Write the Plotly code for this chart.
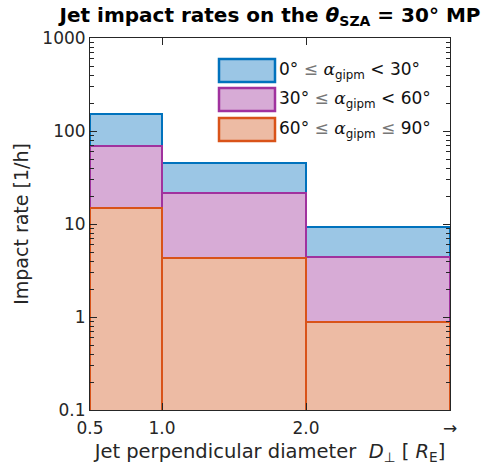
import plotly.graph_objects as go

# Bin edges (jet perpendicular diameter, R_E); last bin is open-ended (→)
bin_left = [0.5, 1.0, 2.0]
bin_right = [1.0, 2.0, 3.0]
tick_vals = [0.5, 1.0, 2.0, 3.0]
tick_text = ["0.5", "1.0", "2.0", "→"]

# Impact rates [1/h] (cumulative levels)
rate_0_30 = [151, 45.5, 9.4]
rate_30_60 = [69.5, 21.3, 4.4]
rate_60_90 = [14.8, 4.35, 0.88]

series_names = [
    "0° <span style='color:#777'>≤</span> <i style='font-family:DejaVu Serif'>α</i><sub>gipm</sub> < 30°",
    "30° <span style='color:#777'>≤</span> <i style='font-family:DejaVu Serif'>α</i><sub>gipm</sub> < 60°",
    "60° <span style='color:#777'>≤</span> <i style='font-family:DejaVu Serif'>α</i><sub>gipm</sub> <span style='color:#777'>≤</span> 90°",
]
fills = ["#9BC6E5", "#D7ABD6", "#EDBBA4"]
edges = ["#0072BD", "#A0329E", "#D95319"]

centers = [(a + b) / 2 for a, b in zip(bin_left, bin_right)]
widths = [b - a for a, b in zip(bin_left, bin_right)]

fig = go.Figure()
for vals, name, fc, ec in zip([rate_0_30, rate_30_60, rate_60_90], series_names, fills, edges):
    fig.add_trace(go.Bar(
        x=centers, y=vals, width=widths, name=name,
        marker=dict(color=fc, line=dict(color=ec, width=2)),
        showlegend=False,
    ))

# Legend drawn as boxes + text (large swatches like the original)
box_x0, box_x1 = 219, 275
box_tops = [59, 88, 118]
box_h = 23
for i, (name, fc, ec) in enumerate(zip(series_names, fills, edges)):
    y0 = box_tops[i]
    fig.add_shape(type="rect", xref="paper", yref="paper",
                  x0=(box_x0 - 90) / 360, x1=(box_x1 - 90) / 360,
                  y0=1 - (y0 + box_h - 38) / 372, y1=1 - (y0 - 38) / 372,
                  fillcolor=fc, line=dict(color=ec, width=2.5), layer="above")
    fig.add_annotation(xref="paper", yref="paper",
                       x=(277 - 90) / 360, y=1 - (y0 + box_h / 2 - 38) / 372,
                       xanchor="left", yanchor="middle", showarrow=False,
                       text=name, font=dict(size=17, color="#111"))

axis_col = "#262626"
fig.update_layout(
    width=485, height=469,
    margin=dict(l=90, r=35, t=38, b=59),
    plot_bgcolor="white", paper_bgcolor="white",
    barmode="overlay", bargap=0,
    font=dict(family="DejaVu Sans", size=17, color=axis_col),
    title=dict(text="<b>Jet impact rates on the <i>θ</i><sub>SZA</sub> = 30° MP</b>",
               x=0.5, xref="paper", xanchor="center", y=0.968, yanchor="middle",
               font=dict(size=20, color="black")),
    xaxis=dict(range=[0.5, 3.0], tickvals=tick_vals, ticktext=tick_text,
               ticks="inside", ticklen=7, tickcolor=axis_col, showline=True,
               linecolor=axis_col, linewidth=1, mirror="ticks", showgrid=False,
               zeroline=False, tickfont=dict(size=17, color=axis_col),
               ticklabelstandoff=3,
               title=dict(text="Jet perpendicular diameter  <i>D</i><sub>⊥</sub> [ <i>R</i><sub>E</sub>]",
                          font=dict(size=19.5, color=axis_col), standoff=6)),
    yaxis=dict(type="log", range=[-1, 3], tickvals=[0.1, 1, 10, 100, 1000],
               ticktext=["0.1", "1", "10", "100", "1000"],
               ticks="inside", ticklen=7, tickcolor=axis_col, showline=True,
               linecolor=axis_col, linewidth=1, mirror="ticks", showgrid=False,
               zeroline=False, tickfont=dict(size=17, color=axis_col),
               minor=dict(ticks="inside", ticklen=4, tickcolor=axis_col, dtick="D1", showgrid=False),
               title=dict(text="Impact rate [1/h]", font=dict(size=19, color=axis_col), standoff=8)),
)

fig.write_html("out.html", config={"displayModeBar": False},
               post_script="document.body.style.margin='0';")
